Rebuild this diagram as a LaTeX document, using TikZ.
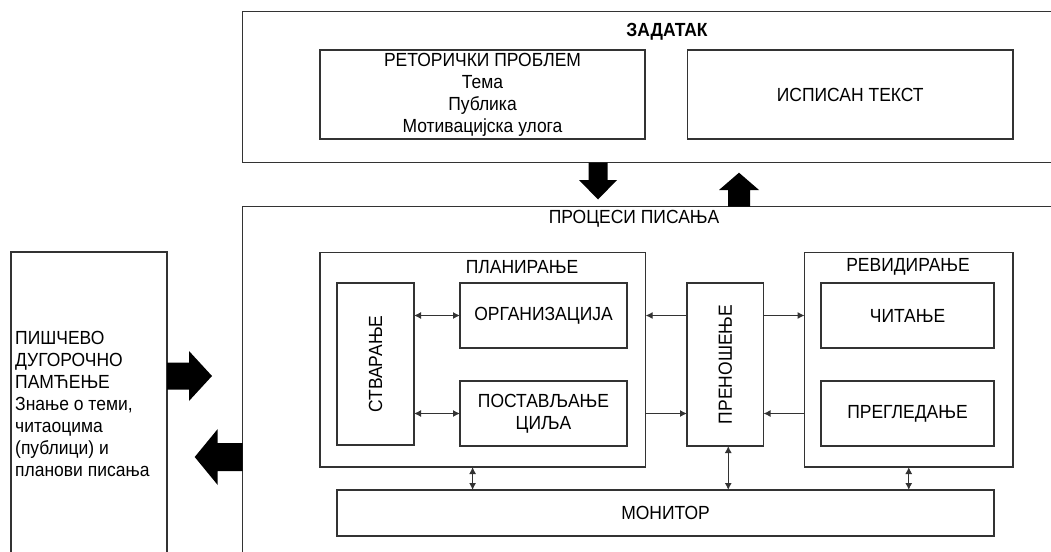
\documentclass[tikz,border=0pt]{standalone}
\usepackage{fontspec}
\setmainfont{Liberation Sans}[FakeStretch=0.92]
\usetikzlibrary{arrows.meta,calc}
\begin{document}
\begin{tikzpicture}[x=1pt,y=-1pt,
  font=\fontsize{19}{22}\selectfont,
  box/.style={draw=black!80, line width=1.3pt, rectangle, inner sep=0pt, outer sep=0pt, anchor=north west, align=center, text=black},
  lbl/.style={inner sep=0pt, text=black},
  tip/.tip={Latex[length=7pt,width=7pt]},
  dbl/.style={draw=black!80, line width=1.2pt, tip-tip},
  one/.style={draw=black!80, line width=1.2pt, -tip},
  blk/.style={fill=black}]
\clip (0,0) rectangle (1051,551);
% ZADATAK
\node[box, minimum width=830pt, minimum height=151pt] (task) at (242.5,11.5) {};
\node[lbl, font=\fontsize{19}{22}\selectfont\bfseries] (tasktitle) at (667,32) {ЗАДАТАК};
\node[box, minimum width=325pt, minimum height=89pt] (rhet) at (320,50)
  {РЕТОРИЧКИ ПРОБЛЕМ\\Тема\\Публика\\Мотивацијска улога};
\node[box, minimum width=325.5pt, minimum height=89pt] (text) at (687.5,50) {ИСПИСАН ТЕКСТ};
% processes
\node[box, minimum width=830pt, minimum height=400pt] (proc) at (242.7,206.7) {};
\node[lbl] (proctitle) at (634,219) {ПРОЦЕСИ ПИСАЊА};
% long-term memory
\node[box, minimum width=156pt, minimum height=330pt] (ltm) at (11,252) {};
\node[lbl, anchor=west, align=left] (ltmtext) at (15,404)
  {ПИШЧЕВО\\ДУГОРОЧНО\\ПАМЋЕЊЕ\\Знање о теми,\\читаоцима\\(публици) и\\планови писања};
% planning
\node[box, minimum width=325.6pt, minimum height=214.5pt] (plan) at (320,252.5) {};
\node[lbl] (plantitle) at (522,267) {ПЛАНИРАЊЕ};
\node[box, minimum width=77pt, minimum height=162pt] (stv) at (337,283) {};
\node[lbl, rotate=90] (stvtext) at (stv.center) {СТВАРАЊЕ};
\node[box, minimum width=167pt, minimum height=65pt] (org) at (460,283) {ОРГАНИЗАЦИЈА};
\node[box, minimum width=167pt, minimum height=65pt] (post) at (460,381) {ПОСТАВЉАЊЕ\\ЦИЉА};
% translating
\node[box, minimum width=76.5pt, minimum height=163pt] (pren) at (687,283) {};
\node[lbl, rotate=90] (prentext) at (pren.center) {ПРЕНОШЕЊЕ};
% reviewing
\node[box, minimum width=208.3pt, minimum height=214.5pt] (rev) at (804.6,252.5) {};
\node[lbl] (revtitle) at (908,267) {РЕВИДИРАЊЕ};
\node[box, minimum width=173pt, minimum height=65pt] (read) at (821,283) {ЧИТАЊЕ};
\node[box, minimum width=173pt, minimum height=65pt] (edit) at (821,381) {ПРЕГЛЕДАЊЕ};
% monitor
\node[box, minimum width=657pt, minimum height=46pt] (mon) at (337,490) {МОНИТОР};
% thin connectors
\draw[dbl] (org.west -| stv.east) -- (org.west);
\draw[dbl] (post.west -| stv.east) -- (post.west);
\draw[one] (pren.west |- org.west) -- (plan.east |- org.west);
\draw[one] (pren.east |- read.west) -- (rev.west |- read.west);
\draw[one] (plan.east |- post.east) -- (pren.west |- post.east);
\draw[one] (rev.west |- edit.west) -- (pren.east |- edit.west);
\draw[dbl] ([xshift=152.6pt]plan.south west) -- ([xshift=152.6pt]plan.south west |- mon.north);
\draw[dbl] ([xshift=3pt]pren.south) -- ([xshift=3pt]pren.south |- mon.north);
\draw[dbl] (rev.south) -- (rev.south |- mon.north);
% block arrows
\coordinate (dax) at (598,0);
\coordinate (uax) at (739,0);
\coordinate (ray) at (0,376);
\coordinate (lay) at (0,457);
\fill[blk, shift={(task.south -| dax)}] (-9.5,0) -- (-9.5,17.5) -- (-19,17.5) -- (0,37) -- (19,17.5) -- (9.5,17.5) -- (9.5,0) -- cycle;
\fill[blk, shift={(proc.north -| uax)}] (-11,0) -- (-11,-16.7) -- (-20,-16.7) -- (0,-34) -- (20,-16.7) -- (11,-16.7) -- (11,0) -- cycle;
\fill[blk, shift={(ltm.east |- ray)}] (0,-13.5) -- (22,-13.5) -- (22,-25) -- (45,0) -- (22,25) -- (22,13.5) -- (0,13.5) -- cycle;
\fill[blk, shift={(proc.west |- lay)}] (0,-14) -- (-25,-14) -- (-25,-28) -- (-48,0) -- (-25,28) -- (-25,14) -- (0,14) -- cycle;
\end{tikzpicture}
\end{document}
